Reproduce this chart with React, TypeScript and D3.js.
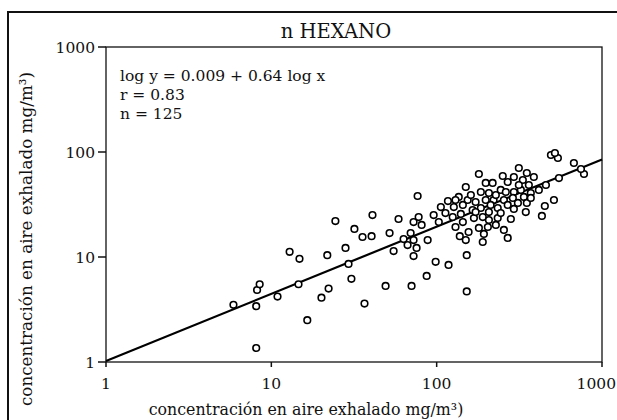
import React from "react";
import * as d3 from "d3";

const title = "n HEXANO";
const xLabel = "concentración en aire exhalado mg/m³)";
const yLabel = "concentración en aire exhalado mg/m³)";
const statLines = ["log y = 0.009 + 0.64 log x", "r = 0.83", "n = 125"];
const intercept = 0.009;
const slope = 0.64;
const tickValues = [1, 10, 100, 1000];

const xValues = [
  5.9, 8.1, 8.1, 8.2, 8.5, 10.9, 12.9, 14.8, 14.6, 21.8, 22.2, 20.1, 24.4, 28.1, 29.3, 30.5, 31.8, 35.6, 40.4, 40.9, 49.1, 51.9, 54.9, 58.8, 16.5, 36.6,
  491, 541, 519, 676, 778, 746, 549, 458, 180, 76.7,
  150, 251, 293, 314, 351, 387, 198, 218, 269, 332,
  361, 185, 207, 244, 293, 323, 371, 117, 136, 154,
  172, 198, 221, 255, 289, 337, 127, 144, 165, 185,
  207, 234, 269, 310, 351, 512, 451, 433, 293, 281,
  95.9, 113, 125, 140, 168, 190, 207, 234, 77.8, 72.5,
  81.1, 103, 130, 156, 138, 180, 204, 193, 150, 190,
  255, 269, 69.6, 63.1, 72.5, 66.7, 75.6, 88.2, 72.5, 152,
  98.6, 118, 87.0, 70.5, 152,
  228, 262, 161, 314, 415, 144, 172, 228, 371, 212, 244, 130, 106, 346,
];
const yValues = [
  3.5, 3.4, 1.36, 4.85, 5.5, 4.2, 11.2, 9.6, 5.5, 10.4, 5.0, 4.1, 22.0, 12.2, 8.6, 6.2, 18.5, 15.5, 15.8, 25.1, 5.3, 16.9, 11.4, 23.0, 2.5, 3.6,
  93.6, 87.7, 97.8, 78.6, 61.7, 68.9, 56.5, 48.5, 61.7, 38.1,
  46.4, 59.1, 57.8, 70.4, 63.1, 57.8, 50.7, 50.7, 51.8, 54.1,
  48.5, 41.6, 40.7, 43.5, 41.6, 43.5, 40.7, 34.1, 37.3, 34.9,
  33.4, 34.9, 34.9, 34.9, 36.5, 37.3, 29.9, 31.3, 28.0, 29.3,
  26.8, 29.3, 31.3, 32.7, 32.7, 34.9, 30.6, 24.6, 28.7, 23.0,
  25.1, 26.2, 24.0, 25.7, 23.5, 24.0, 22.5, 23.5, 24.0, 21.5,
  20.2, 21.5, 19.3, 17.3, 15.8, 18.9, 19.3, 16.6, 14.5, 13.9,
  18.1, 15.2, 16.9, 14.8, 14.5, 13.0, 12.2, 14.5, 10.2, 10.4,
  9.0, 8.4, 6.6, 5.3, 4.7,
  38.9, 41.6, 38.9, 48.5, 43.5, 21.5, 26.8, 20.2, 36.5, 31.3, 26.2, 34.9, 29.9, 26.8,
];

const W = 617;
const H = 420;
const FONT = "'DejaVu Serif', serif";

export default function App() {
  const x = d3.scaleLog().domain([1, 1000]).range([106, 602]);
  const y = d3.scaleLog().domain([1, 1000]).range([362, 47]);
  const points = xValues.map((v, i) => ({ x: v, y: yValues[i] }));
  const fitX = [1, 1000];
  const fit = fitX.map((v) => ({ x: v, y: Math.pow(10, intercept + slope * Math.log10(v)) }));
  const line = d3
    .line<{ x: number; y: number }>()
    .x((d) => x(d.x))
    .y((d) => y(d.y));

  const [x0, x1] = x.range();
  const [y0, y1] = y.range();

  return (
    <svg
      width={W}
      height={H}
      style={{ position: "absolute", left: 0, top: 0, background: "#fff" }}
      fontFamily={FONT}
    >
      <rect x={0} y={0} width={W} height={H} fill="#fff" />
      {/* outer frame */}
      <line x1={7} y1={12} x2={W} y2={12} stroke="#111" strokeWidth={2} />
      <line x1={8} y1={11} x2={8} y2={H} stroke="#111" strokeWidth={2} />

      {/* title */}
      <text x={336} y={38} textAnchor="middle" fontSize={19.5} fill="#111">
        {title}
      </text>

      {/* plot frame */}
      <rect x={x0} y={y1} width={x1 - x0} height={y0 - y1} fill="none" stroke="#111" strokeWidth={1.3} />

      {/* y ticks */}
      {tickValues.map((t) => (
        <g key={"y" + t}>
          <line x1={x0 - 8} x2={x0} y1={y(t)} y2={y(t)} stroke="#111" strokeWidth={1.5} />
          <text x={x0 - 11} y={y(t) + 5.5} textAnchor="end" fontSize={15.5} fill="#111">
            {t}
          </text>
        </g>
      ))}

      {/* x ticks */}
      {tickValues.map((t, i) => {
        const last = i === tickValues.length - 1;
        return (
          <g key={"x" + t}>
            <line x1={x(t)} x2={x(t)} y1={y0} y2={y0 + 5} stroke="#111" strokeWidth={1.5} />
            <text
              x={last ? W - 1 : x(t)}
              y={y0 + 27}
              textAnchor={last ? "end" : "middle"}
              fontSize={15.5}
              fill="#111"
            >
              {t}
            </text>
          </g>
        );
      })}

      {/* axis titles */}
      <text x={306} y={415} textAnchor="middle" fontSize={15.8} fill="#111">
        {xLabel}
      </text>
      <text
        transform={`translate(32, 239) rotate(-90)`}
        textAnchor="middle"
        fontSize={16.8}
        fill="#111"
      >
        {yLabel}
      </text>

      {/* stats */}
      {statLines.map((s, i) => (
        <text key={i} x={120} y={81 + i * 19} fontSize={15.5} fill="#111" style={{ whiteSpace: "pre" }}>
          {s}
        </text>
      ))}

      {/* regression line */}
      <path d={line(fit) || ""} fill="none" stroke="#000" strokeWidth={2.2} />

      {/* points */}
      {points.map((p, i) => (
        <circle key={i} cx={x(p.x)} cy={y(p.y)} r={3.3} fill="#fff" stroke="#000" strokeWidth={1.6} />
      ))}
    </svg>
  );
}
